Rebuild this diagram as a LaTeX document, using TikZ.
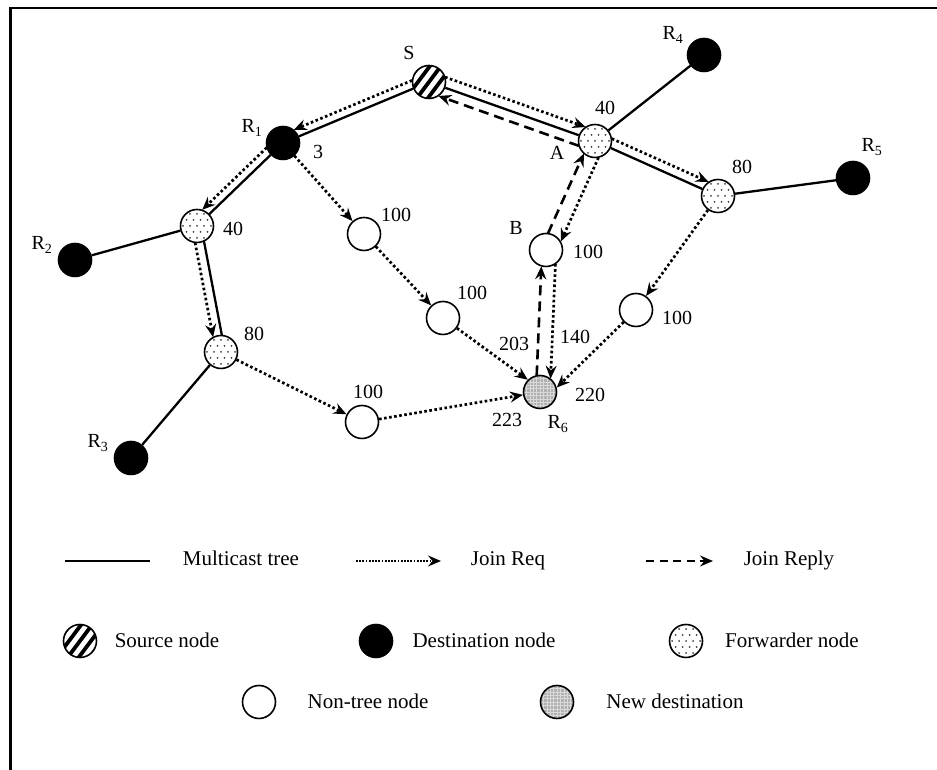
\documentclass[tikz,border=0pt]{standalone}
\usepackage{fontspec}
\setmainfont{Liberation Serif}
\usetikzlibrary{arrows.meta,calc}
\pgfdeclarelayer{edges}
\pgfsetlayers{edges,main}

% connector parallel to the line between two nodes, shifted sideways by #4
% (positive = right-hand side of travel), both ends pulled back by #5
\newcommand\sideedge[5]{%
  \draw[#1,shorten <=#5,shorten >=#5] ($(#2)!#4!-90:(#3)$) -- ($(#3)!#4!90:(#2)$);}

\begin{document}
\begin{tikzpicture}[x=1pt,y=1pt,
  vtx/.style={circle,draw,line width=1.6pt,minimum size=33pt,inner sep=0pt},
  dest/.style={vtx,fill=black},
  plain/.style={vtx,fill=white},
  src/.style={vtx,fill=white,path picture={
     \foreach \k in {-3,...,3}
       \draw[line width=3.8pt] ($(path picture bounding box.center)+(\k*11-15,-20)$) -- ++(30,40);}},
  fwd/.style={vtx,fill=white,path picture={
     \foreach \i in {-3,...,3}{\foreach \j in {-3,...,3}{
       \fill[black!75] ($(path picture bounding box.center)+({\i*7+mod(abs(\j),2)*3.5},{\j*6})$) circle (1);}}}},
  newdest/.style={vtx,fill=gray!62,path picture={
     \foreach \k in {-5,...,5}{
       \draw[white!70!gray,line width=0.5pt] ($(path picture bounding box.center)+(\k*3.4,-20)$) -- ++(0,40);
       \draw[white!70!gray,line width=0.5pt] ($(path picture bounding box.center)+(-20,\k*3.4)$) -- ++(40,0);}}},
  tree/.style={line width=2.3pt},
  req/.style={line width=2.7pt,dash pattern=on 2.6pt off 2.5pt,-{Stealth[length=13pt,width=11pt,inset=4.5pt]}},
  reply/.style={line width=2.6pt,dash pattern=on 10pt off 6pt,-{Stealth[length=13pt,width=11pt,inset=4.5pt]}},
  lbl/.style={anchor=base,inner sep=0pt,font=\fontsize{20}{24}\selectfont},
  key/.style={anchor=base,inner sep=0pt,font=\fontsize{21}{25}\selectfont},
]
\useasboundingbox (0,0) rectangle (937,770);

% frame
\draw[line width=2.2pt] (937,762) -- (10.5,762) -- (10.5,0);

% network nodes
\node[src]     (S)  at (429,688) {};
\node[dest]    (R1) at (283,627) {};
\node[fwd]     (A)  at (595,629) {};
\node[dest]    (R4) at (704,715) {};
\node[fwd]     (F2) at (718,574) {};
\node[dest]    (R5) at (853,592) {};
\node[fwd]     (F1) at (197,544) {};
\node[dest]    (R2) at (75,510) {};
\node[fwd]     (F3) at (221,418) {};
\node[dest]    (R3) at (131,312) {};
\node[plain]   (N1) at (364,536) {};
\node[plain]   (N2) at (443,452) {};
\node[plain]   (N3) at (362,348) {};
\node[plain]   (B)  at (546,520) {};
\node[plain]   (N4) at (636,460) {};
\node[newdest] (R6) at (540,378) {};

% labels
\node[lbl] (lS)   at (409,710) {S};
\node[lbl] (lR1)  at (252,637) {R\textsubscript{1}};
\node[lbl] (l3)   at (318,611) {3};
\node[lbl] (lA40) at (605,655) {40};
\node[lbl] (lA)   at (557,610) {A};
\node[lbl] (lR4)  at (673,730) {R\textsubscript{4}};
\node[lbl] (lF2)  at (742,596) {80};
\node[lbl] (lR5)  at (872,618) {R\textsubscript{5}};
\node[lbl] (lF1)  at (233,534) {40};
\node[lbl] (lR2)  at (42,520) {R\textsubscript{2}};
\node[lbl] (lF3)  at (254,429) {80};
\node[lbl] (lR3)  at (98,322) {R\textsubscript{3}};
\node[lbl] (lN1)  at (396,548) {100};
\node[lbl] (lN3)  at (368,371) {100};
\node[lbl] (lN2)  at (472,470) {100};
\node[lbl] (lB)   at (516,535) {B};
\node[lbl] (lB1)  at (588,511) {100};
\node[lbl] (lN4)  at (677,445) {100};
\node[lbl] (l203) at (514,419) {203};
\node[lbl] (l140) at (575,426) {140};
\node[lbl] (l220) at (590,368) {220};
\node[lbl] (l223) at (507,343) {223};
\node[lbl] (lR6)  at (558,341) {R\textsubscript{6}};

\begin{pgfonlayer}{edges}
  % multicast tree
  \draw[tree] (S) -- (R1);
  \draw[tree] (S) -- (A);
  \draw[tree] (A) -- (R4);
  \draw[tree] (A) -- (F2);
  \draw[tree] (F2) -- (R5);
  \draw[tree] (R1) -- (F1);
  \draw[tree] (F1) -- (R2);
  \draw[tree] (F3) -- (R3);
  \sideedge{tree}{F1}{F3}{-4pt}{0pt}
  % join requests along the tree
  \sideedge{req}{S}{R1}{8pt}{15pt}
  \sideedge{req}{S}{A}{-10pt}{13.5pt}
  \sideedge{req}{A}{F2}{-9pt}{14.4pt}
  \sideedge{req}{R1}{F1}{8pt}{15pt}
  \sideedge{req}{F1}{F3}{5pt}{16pt}
  \sideedge{req}{A}{B}{-10pt}{13.7pt}
  \sideedge{req}{B}{R6}{-10pt}{13.7pt}
  % join requests through non-tree nodes
  \draw[req] (R1) -- (N1);
  \draw[req] (N1) -- (N2);
  \draw[req] (N2) -- (R6.135);
  \draw[req] (F3) -- (N3);
  \draw[req] (N3) -- (R6);
  \draw[req] (F2) -- (N4);
  \draw[req] (N4) -- (R6.15);
  % join reply back to the source
  \sideedge{reply}{R6}{B}{-4pt}{16.5pt}
  \sideedge{reply}{B}{A}{-5pt}{16pt}
  \sideedge{reply}{A}{S}{-10pt}{13.5pt}
\end{pgfonlayer}

% legend
\coordinate (kt1) at (65,209);  \coordinate (kt2) at (150,209);
\draw[tree] (kt1) -- (kt2);
\node[key] (kMT) at (241,204) {Multicast tree};
\coordinate (kq1) at (356,209); \coordinate (kq2) at (441,209);
\draw[req,line width=2.4pt,dash pattern=on 1.7pt off 1.5pt] (kq1) -- (kq2);
\node[key] (kJQ) at (508,204) {Join Req};
\coordinate (kp1) at (646,209); \coordinate (kp2) at (713,209);
\draw[reply,dash pattern=on 8pt off 5.5pt] (kp1) -- (kp2);
\node[key] (kJP) at (789,204) {Join Reply};

\node[src]     (kS)  at (80,129) {};
\node[key]     (kSt) at (167,122) {Source node};
\node[dest]    (kD)  at (376,129) {};
\node[key]     (kDt) at (484,122) {Destination node};
\node[fwd]     (kF)  at (686,129) {};
\node[key]     (kFt) at (792,122) {Forwarder node};
\node[plain]   (kN)  at (259,68) {};
\node[key]     (kNt) at (368,61) {Non-tree node};
\node[newdest] (kR)  at (557,68) {};
\node[key]     (kRt) at (675,61) {New destination};
\end{tikzpicture}
\end{document}
